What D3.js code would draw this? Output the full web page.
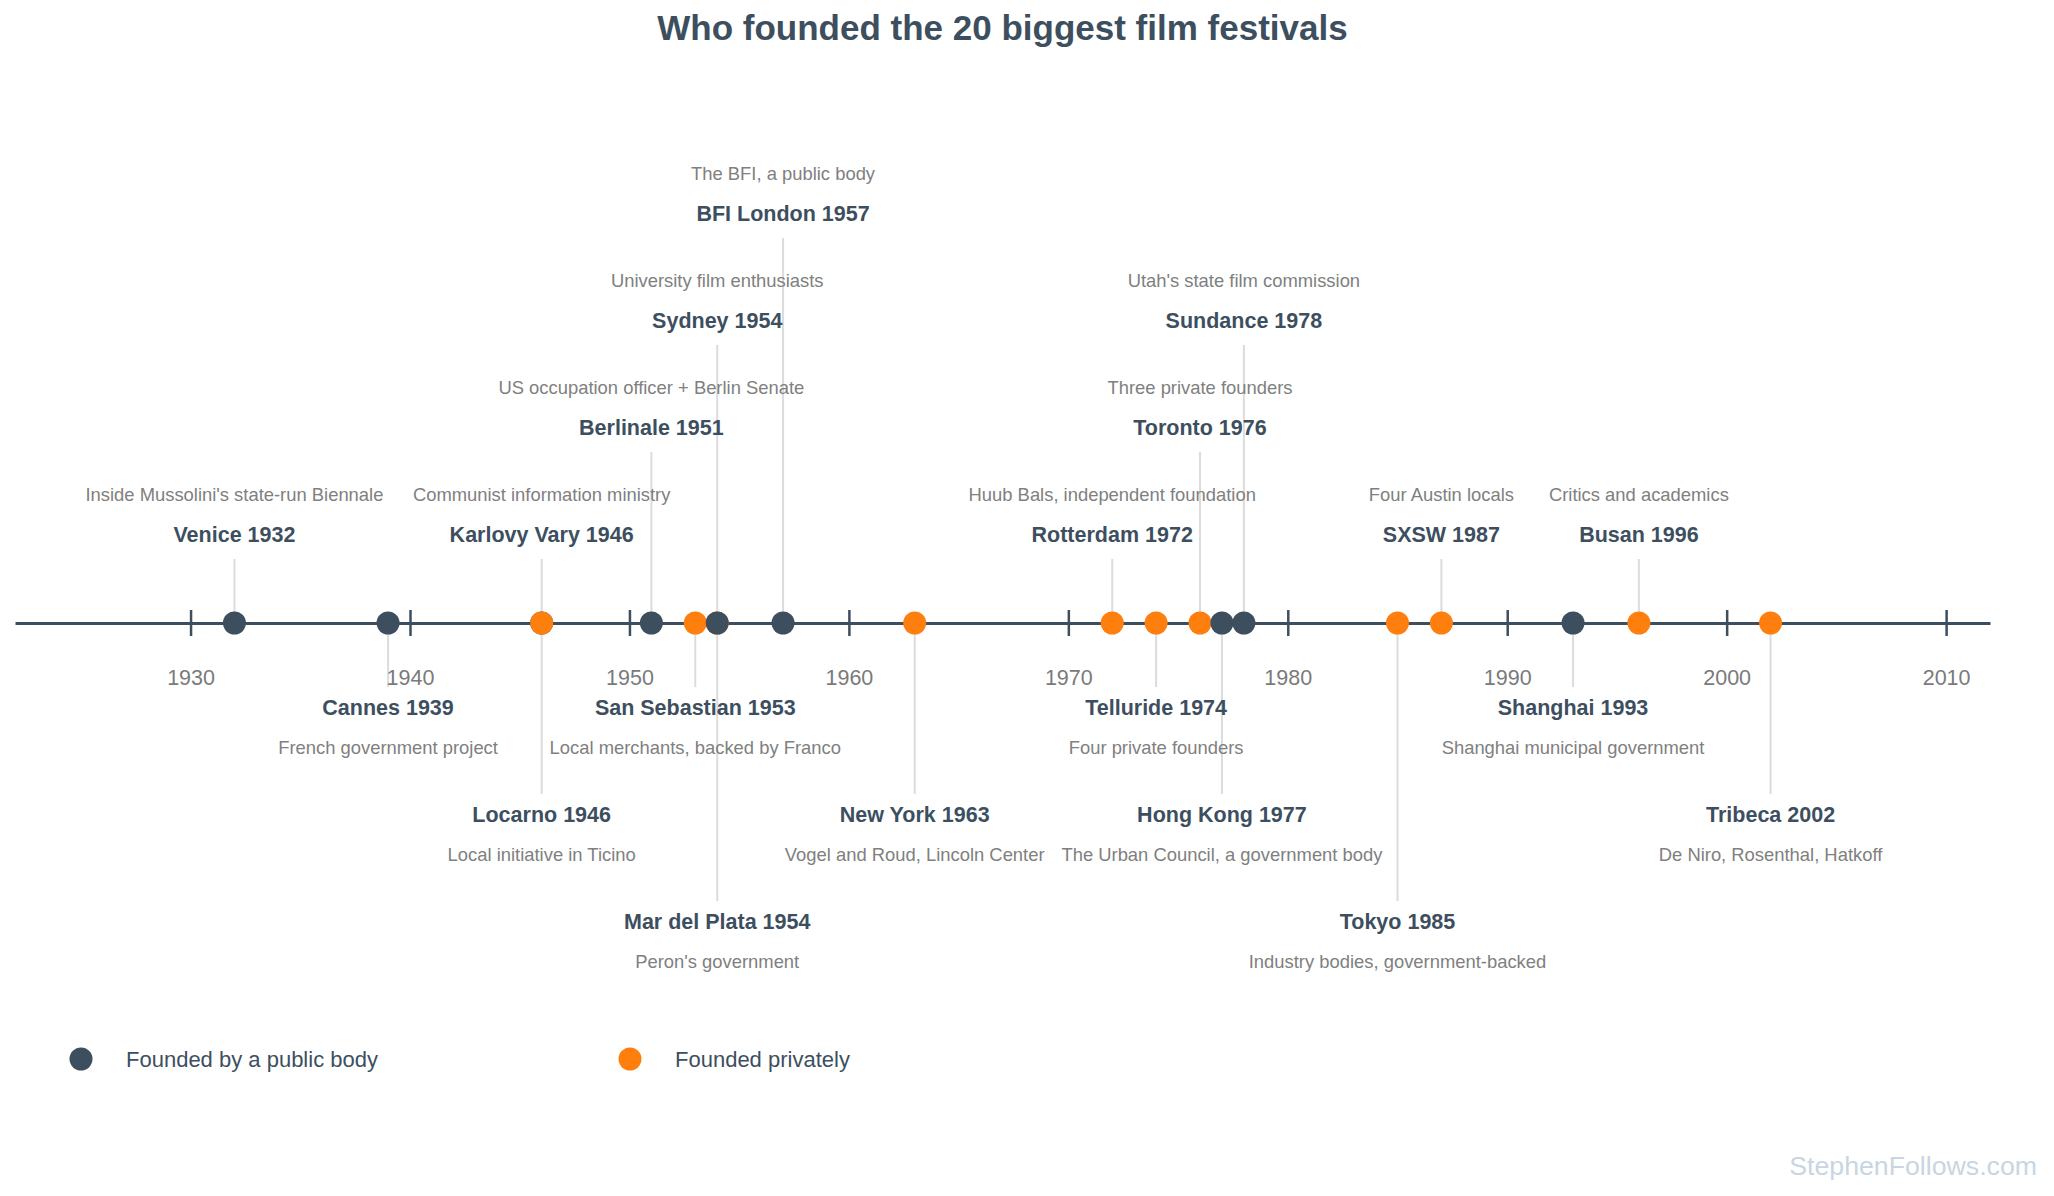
<!DOCTYPE html>
<html>
<head>
<meta charset="utf-8">
<script src="https://cdn.jsdelivr.net/npm/d3@7"></script>
<style>
  body { margin: 0; background: #fff; }
  text { font-family: "Liberation Sans", Arial, sans-serif; }
</style>
</head>
<body>
<div id="chart"></div>
<script>
// Festival data (chronological, ties in drawing order)
var years = [1932, 1939, 1946, 1946, 1951, 1953, 1954, 1954, 1957, 1963,
             1972, 1974, 1976, 1977, 1978, 1985, 1987, 1993, 1996, 2002];
var names = ["Venice", "Cannes", "Karlovy Vary", "Locarno", "Berlinale", "San Sebastian",
             "Sydney", "Mar del Plata", "BFI London", "New York",
             "Rotterdam", "Telluride", "Toronto", "Hong Kong", "Sundance",
             "Tokyo", "SXSW", "Shanghai", "Busan", "Tribeca"];
var founders = ["Inside Mussolini's state-run Biennale", "French government project",
                "Communist information ministry", "Local initiative in Ticino",
                "US occupation officer + Berlin Senate", "Local merchants, backed by Franco",
                "University film enthusiasts", "Peron's government", "The BFI, a public body",
                "Vogel and Roud, Lincoln Center", "Huub Bals, independent foundation",
                "Four private founders", "Three private founders",
                "The Urban Council, a government body", "Utah's state film commission",
                "Industry bodies, government-backed", "Four Austin locals",
                "Shanghai municipal government", "Critics and academics",
                "De Niro, Rosenthal, Hatkoff"];
var founderType = ["public", "public", "public", "private", "public", "private",
                   "private", "public", "public", "private",
                   "private", "private", "private", "public", "public",
                   "private", "private", "public", "private", "private"];
// label tier: positive = above the line, negative = below
var tiers = [1, -1, 1, -2, 2, -1, 3, -3, 4, -2,
             1, -1, 2, -2, 3, -3, 1, -1, 1, -2];
var tickYears = [1930, 1940, 1950, 1960, 1970, 1980, 1990, 2000, 2010];
var legendLabels = ["Founded by a public body", "Founded privately"];

var festivals = years.map(function(y, i) {
  return { year: y, name: names[i], founder: founders[i], type: founderType[i], tier: tiers[i] };
});

var svgWidth = 2054;
var svgHeight = 1196;
var axisY = 623;
var dark = "#3d4f5f";

var color = d3.scaleOrdinal()
  .domain(["public", "private"])
  .range([dark, "#ff7f0e"]);

var svg = d3.select("#chart")
  .append("svg")
  .attr("width", svgWidth)
  .attr("height", svgHeight);

svg.append("rect")
  .attr("width", svgWidth)
  .attr("height", svgHeight)
  .attr("fill", "#fff");

var x = d3.scaleLinear()
  .domain([d3.min(years) - 10, d3.max(years) + 10])
  .range([15, 1990]);

// stem length for each tier
function stem(t) { return 64 + 107 * (Math.abs(t) - 1); }
function dir(t) { return t > 0 ? -1 : 1; }

// Title
svg.append("text")
  .attr("x", (x.range()[0] + x.range()[1]) / 2)
  .attr("y", 40)
  .attr("text-anchor", "middle")
  .attr("font-size", "35px")
  .attr("font-weight", "bold")
  .attr("fill", dark)
  .text("Who founded the 20 biggest film festivals");

// Stems
svg.append("g")
  .selectAll("line")
  .data(festivals)
  .enter()
  .append("line")
  .attr("x1", d => x(d.year))
  .attr("x2", d => x(d.year))
  .attr("y1", axisY)
  .attr("y2", d => axisY + dir(d.tier) * stem(d.tier))
  .attr("stroke", "#dcdcdc")
  .attr("stroke-width", 2);

// Axis
var axis = d3.axisBottom(x)
  .tickValues(tickYears)
  .tickFormat(d3.format("d"))
  .tickSizeInner(26)
  .tickSizeOuter(0);

var axisG = svg.append("g")
  .attr("transform", `translate(0, ${axisY})`)
  .call(axis);

axisG.select(".domain")
  .attr("stroke", dark)
  .attr("stroke-width", 3);

axisG.selectAll(".tick line")
  .attr("y1", -13)
  .attr("y2", 13)
  .attr("stroke", dark)
  .attr("stroke-width", 2.5);

axisG.selectAll(".tick text")
  .attr("y", 62)
  .attr("dy", null)
  .attr("font-size", "21.5px")
  .attr("font-family", "Liberation Sans, Arial, sans-serif")
  .attr("fill", "#7a7a7a");

// Dots
svg.append("g")
  .selectAll("circle")
  .data(festivals)
  .enter()
  .append("circle")
  .attr("cx", d => x(d.year))
  .attr("cy", axisY)
  .attr("r", 11.5)
  .attr("fill", d => color(d.type));

// Festival names
svg.append("g")
  .selectAll("text")
  .data(festivals)
  .enter()
  .append("text")
  .attr("x", d => x(d.year))
  .attr("y", d => axisY + dir(d.tier) * (stem(d.tier) + 22.5) + 5.5)
  .attr("text-anchor", "middle")
  .attr("font-size", "21.5px")
  .attr("font-weight", "bold")
  .attr("fill", dark)
  .text(d => d.name + " " + d.year);

// Founder descriptions
svg.append("g")
  .selectAll("text")
  .data(festivals)
  .enter()
  .append("text")
  .attr("x", d => x(d.year))
  .attr("y", d => axisY + dir(d.tier) * (stem(d.tier) + 62.5) + 4.5)
  .attr("text-anchor", "middle")
  .attr("font-size", "18.4px")
  .attr("fill", "#808080")
  .text(d => d.founder);

// Legend
var legend = svg.append("g")
  .selectAll("g")
  .data(color.domain())
  .enter()
  .append("g")
  .attr("transform", (d, i) => `translate(${81 + i * 549}, 1059)`);

legend.append("circle")
  .attr("r", 11.5)
  .attr("fill", d => color(d));

legend.append("text")
  .attr("x", 45)
  .attr("y", 7.5)
  .attr("font-size", "22px")
  .attr("fill", dark)
  .text((d, i) => legendLabels[i]);

// Watermark
svg.append("text")
  .attr("x", 2037)
  .attr("y", 1175)
  .attr("text-anchor", "end")
  .attr("font-size", "26.7px")
  .attr("fill", "#c8d5e2")
  .text("StephenFollows.com");
</script>
</body>
</html>
